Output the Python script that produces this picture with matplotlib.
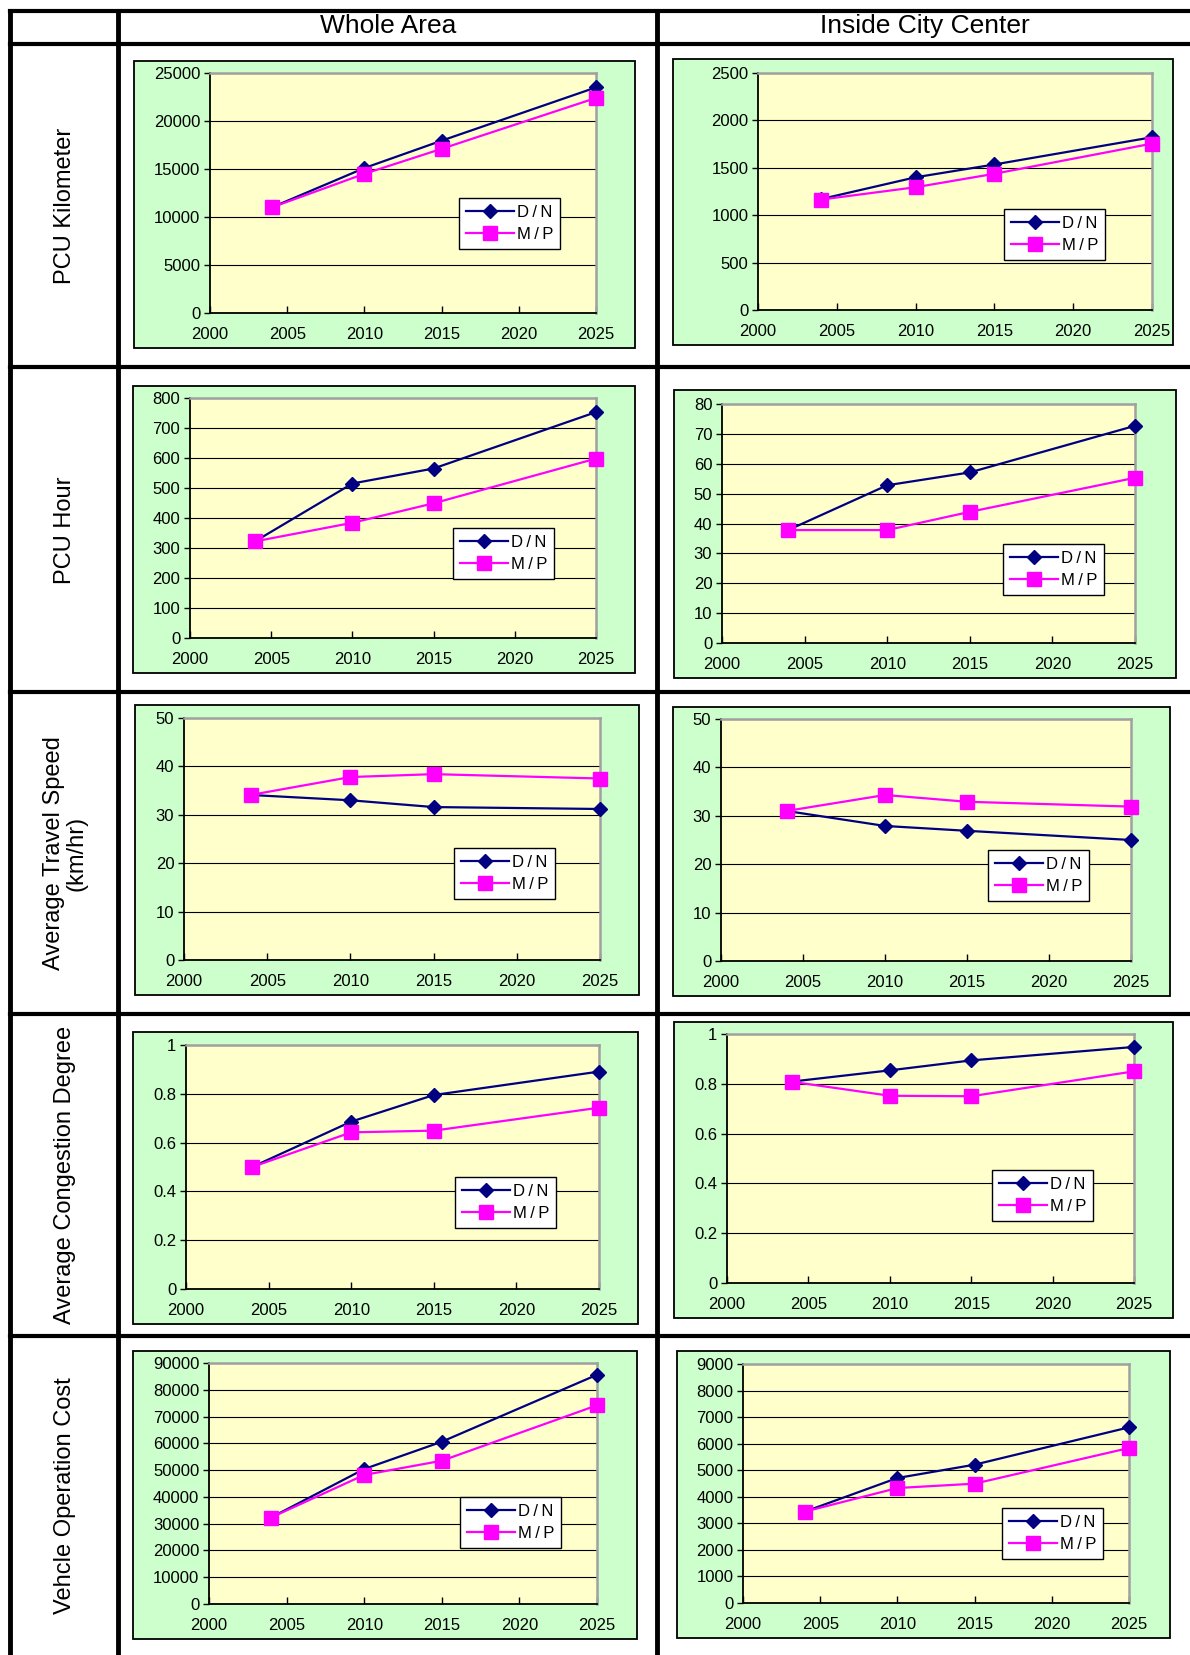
import matplotlib
matplotlib.use("Agg")
import matplotlib.pyplot as plt
from matplotlib.patches import Rectangle
from matplotlib.lines import Line2D

# ---------------- data ----------------
years = [2004, 2010, 2015, 2025]
series_names = ["D/N", "M/P"]
col_titles = ["Whole Area", "Inside City Center"]
row_titles = ["PCU Kilometer", "PCU Hour", "Average Travel Speed\n(km/hr)",
              "Average Congestion Degree", "Vehcle Operation Cost"]

pcu_km_whole_dn = [11000, 15100, 17950, 23500]
pcu_km_whole_mp = [11000, 14500, 17100, 22400]
pcu_km_city_dn = [1170, 1400, 1535, 1822]
pcu_km_city_mp = [1165, 1295, 1437, 1755]

pcu_hr_whole_dn = [322, 515, 565, 753]
pcu_hr_whole_mp = [322, 384, 449, 598]
pcu_hr_city_dn = [37.8, 52.8, 57.1, 72.7]
pcu_hr_city_mp = [37.8, 37.8, 43.9, 55.3]

speed_whole_dn = [34.1, 33.0, 31.6, 31.2]
speed_whole_mp = [34.1, 37.8, 38.4, 37.5]
speed_city_dn = [31.0, 27.9, 26.9, 25.0]
speed_city_mp = [31.0, 34.3, 32.9, 31.9]

cong_whole_dn = [0.50, 0.686, 0.795, 0.891]
cong_whole_mp = [0.50, 0.642, 0.649, 0.743]
cong_city_dn = [0.809, 0.854, 0.894, 0.948]
cong_city_mp = [0.808, 0.752, 0.750, 0.850]

voc_whole_dn = [32300, 50400, 60600, 85600]
voc_whole_mp = [32300, 48200, 53500, 74200]
voc_city_dn = [3440, 4707, 5209, 6615]
voc_city_mp = [3440, 4330, 4494, 5837]

y_limits = [(25000, 5000), (2500, 500), (800, 100), (80, 10), (50, 10), (50, 10),
            (1, 0.2), (1, 0.2), (90000, 10000), (9000, 1000)]
x_ticks = [2000, 2005, 2010, 2015, 2020, 2025]

panel_data = [
    (pcu_km_whole_dn, pcu_km_whole_mp), (pcu_km_city_dn, pcu_km_city_mp),
    (pcu_hr_whole_dn, pcu_hr_whole_mp), (pcu_hr_city_dn, pcu_hr_city_mp),
    (speed_whole_dn, speed_whole_mp), (speed_city_dn, speed_city_mp),
    (cong_whole_dn, cong_whole_mp), (cong_city_dn, cong_city_mp),
    (voc_whole_dn, voc_whole_mp), (voc_city_dn, voc_city_mp),
]

# ---------------- layout (pixels) ----------------
W, H = 1190, 1655
plot_boxes = [
    (210, 73, 596, 313), (758, 73, 1152, 310),
    (190, 398, 596, 638), (722, 404, 1135, 643),
    (184, 718, 600, 960), (721, 719, 1131, 961),
    (186, 1045, 599, 1289), (727, 1034, 1134, 1283),
    (209, 1363, 597, 1604), (743, 1364, 1129, 1603),
]
green_boxes = [
    (134, 61, 635, 348), (673, 59, 1173, 345),
    (133, 386, 635, 673), (674, 390, 1176, 678),
    (135, 705, 639, 995), (673, 707, 1170, 996),
    (133, 1032, 638, 1324), (674, 1022, 1173, 1318),
    (133, 1351, 637, 1639), (677, 1351, 1170, 1638),
]
legend_anchor = [
    (459, 198), (1004, 209), (453, 528), (1003, 544), (454, 848),
    (988, 850), (455, 1177), (992, 1170), (460, 1497), (1002, 1508),
]

plt.rcParams["font.family"] = ["Liberation Sans", "DejaVu Sans"]

fig = plt.figure(figsize=(W / 100, H / 100), dpi=100)
fig.patch.set_facecolor("white")


def fx(x):
    return x / W


def fy(y):
    return 1 - y / H


# table lines
tlw = 3.0
for y in [11, 44, 367, 692, 1014, 1336]:
    fig.add_artist(Line2D([fx(10), 1.0], [fy(y), fy(y)], color="black", lw=tlw,
                          transform=fig.transFigure))
for x in [10, 118, 657]:
    fig.add_artist(Line2D([fx(x), fx(x)], [fy(11), 0.0], color="black", lw=tlw + 0.5,
                          transform=fig.transFigure))

# headers
for title, xc in zip(col_titles, [388, 925]):
    fig.text(fx(xc), fy(26), title, ha="center", va="center", fontsize=19)
row_centers = [206, 530, 853, 1175, 1496]
for title, yc in zip(row_titles, row_centers):
    fig.text(fx(65), fy(yc), title, ha="center", va="center", rotation=90,
             fontsize=17, linespacing=1.05)

for i, (dn, mp) in enumerate(panel_data):
    gx0, gy0, gx1, gy1 = green_boxes[i]
    fig.add_artist(Rectangle((fx(gx0), fy(gy1)), (gx1 - gx0) / W, (gy1 - gy0) / H,
                             facecolor="#CCFFCC", edgecolor="black", lw=1.3,
                             transform=fig.transFigure, zorder=0))
    x0, y0, x1, y1 = plot_boxes[i]
    ax = fig.add_axes([fx(x0), fy(y1), (x1 - x0) / W, (y1 - y0) / H])
    ax.set_facecolor("#FFFFCC")
    ymax, ystep = y_limits[i]
    ax.set_xlim(2000, 2025)
    ax.set_ylim(0, ymax)
    nt = int(round(ymax / ystep))
    yt = [ystep * k for k in range(nt + 1)]
    ax.set_yticks(yt)
    if ystep < 1:
        ax.set_yticklabels(["0"] + ["%g" % round(v, 1) for v in yt[1:]])
    ax.set_xticks(x_ticks)
    ax.yaxis.grid(True, color="black", lw=0.8)
    ax.set_axisbelow(True)
    ax.tick_params(axis="y", direction="out", length=4, width=1, labelsize=12, pad=3)
    ax.tick_params(axis="x", direction="in", length=5, width=1, labelsize=12, pad=10)
    for s in ["top", "right"]:
        ax.spines[s].set_color("#A0A0A0")
        ax.spines[s].set_linewidth(1.8)
    for s in ["left", "bottom"]:
        ax.spines[s].set_color("black")
        ax.spines[s].set_linewidth(1.3)
    ax.plot(years, dn, color="#000080", lw=1.6, marker="D", markersize=7.5,
            markerfacecolor="#000080", markeredgecolor="#000080",
            label="D\u2009/\u2009N", clip_on=False, zorder=3)
    ax.plot(years, mp, color="#FF00FF", lw=1.6, marker="s", markersize=9.5,
            markerfacecolor="#FF00FF", markeredgecolor="#FF00FF",
            label="M\u2009/\u2009P", clip_on=False, zorder=3)
    lx, ly = legend_anchor[i]
    leg = ax.legend(loc="upper left", bbox_to_anchor=(fx(lx), fy(ly)),
                    bbox_transform=fig.transFigure, borderaxespad=0,
                    fontsize=12, handlelength=2.9, handletextpad=0.2,
                    borderpad=0.4, labelspacing=0.45, fancybox=False,
                    framealpha=1, edgecolor="black")
    leg.get_frame().set_linewidth(1.0)

fig.savefig("out.png", dpi=100, facecolor="white")
